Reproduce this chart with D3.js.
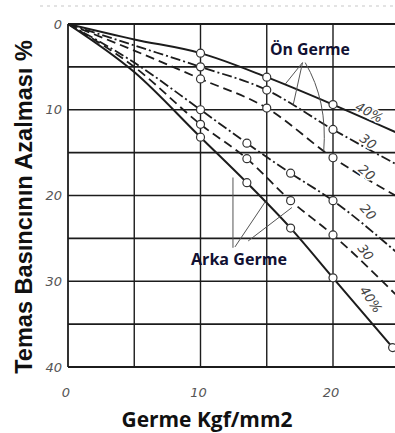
<!DOCTYPE html>
<html><head><meta charset="utf-8">
<script src="https://cdn.jsdelivr.net/npm/d3@7"></script>
<style>html,body{margin:0;padding:0;background:#fff;overflow:hidden}</style>
</head><body>
<svg id="c" width="395" height="433"></svg>
<script>
// ---- data ----
const xTicks = [0, 10, 20];
const yTicks = [0, 10, 20, 30, 40];
const gridX = [0, 5, 10, 15, 20];
const gridY = [0, 5, 10, 15, 20, 25, 30, 35, 40];

const onX = [0, 5, 10, 15, 20, 24.7];
const on40 = [0, 1.8, 3.4, 6.2, 9.4, 12.6];
const on30 = [0, 2.5, 5.0, 7.7, 12.3, 16.3];
const on20 = [0, 3.1, 6.4, 9.8, 15.6, 20.0];
const onMarkX = [10, 15, 20];

const arkaX = [0, 5, 10, 13.5, 16.8, 20, 24.7];
const arka20 = [0, 4.5, 10.0, 13.9, 17.4, 20.6, 26.5];
const arka30 = [0, 5.0, 11.7, 15.7, 20.6, 24.6, 31.5];
const arka40 = [0, 5.6, 13.2, 18.5, 23.8, 29.6, 38.1];
const arkaMarkX = [10, 13.5, 16.8, 20];

const curveLabels = [
  {t: "40%", x: 22.7, y: 10.4, a: 28},
  {t: "30",  x: 22.6, y: 13.8, a: 36},
  {t: "20",  x: 22.5, y: 17.4, a: 40},
  {t: "20",  x: 22.6, y: 22.0, a: 48},
  {t: "30",  x: 22.4, y: 26.7, a: 52},
  {t: "40%", x: 22.8, y: 32.2, a: 56}
];

// ---- drawing ----
const svg = d3.select("#c");
const x = d3.scaleLinear().domain([0, 25]).range([68, 399.25]);
const y = d3.scaleLinear().domain([0, 40]).range([24, 367]);
const ink = "#1c1c1c";

svg.append("line").attr("x1", 40).attr("x2", 395).attr("y1", 6).attr("y2", 6)
  .attr("stroke", "#c8c8c8").attr("stroke-width", 1.2).attr("stroke-dasharray", "3,4");

svg.append("defs").append("clipPath").attr("id", "pc").append("rect")
  .attr("x", x(0)).attr("y", y(0) - 6).attr("width", 395 - x(0)).attr("height", y(40) - y(0) + 12);

const g = svg.append("g");
g.selectAll(".gh").data(gridY).join("line")
  .attr("x1", x(0)).attr("x2", 395).attr("y1", d => y(d)).attr("y2", d => y(d))
  .attr("stroke", ink).attr("stroke-width", d => (d === 0 || d === 40) ? 1.8 : 1.6);
g.selectAll(".gv").data(gridX).join("line")
  .attr("x1", d => x(d)).attr("x2", d => x(d)).attr("y1", y(0)).attr("y2", y(40))
  .attr("stroke", ink).attr("stroke-width", d => d === 0 ? 1.8 : 1.4);

const tickFont = "'DejaVu Sans', sans-serif";
svg.selectAll(".yt").data(yTicks).join("text")
  .attr("x", 62).attr("y", d => y(d) + 4.5).attr("text-anchor", "end")
  .attr("font-family", tickFont).attr("font-style", "italic").attr("font-size", 13)
  .attr("fill", "#555").text(d => d);
svg.selectAll(".xt").data(xTicks).join("text")
  .attr("x", d => x(d) - 2).attr("y", 397).attr("text-anchor", "middle")
  .attr("font-family", tickFont).attr("font-style", "italic").attr("font-size", 13)
  .attr("fill", "#555").text(d => d);

const line = d3.line().x(d => x(d[0])).y(d => y(d[1])).curve(d3.curveMonotoneX);
const series = [
  {xs: onX, ys: on40, dash: null, w: 2.0, mk: onMarkX},
  {xs: onX, ys: on30, dash: "10,3,2,3", w: 1.8, mk: onMarkX},
  {xs: onX, ys: on20, dash: "9,5", w: 1.8, mk: onMarkX},
  {xs: arkaX, ys: arka20, dash: "10,3,2,3", w: 1.8, mk: arkaMarkX},
  {xs: arkaX, ys: arka30, dash: "9,5", w: 1.8, mk: arkaMarkX},
  {xs: arkaX, ys: arka40, dash: null, w: 2.0, mk: arkaMarkX.concat([24.5])}
];
const cg = svg.append("g").attr("clip-path", "url(#pc)");
series.forEach(s => {
  const pts = s.xs.map((v, i) => [v, s.ys[i]]);
  const path = cg.append("path").datum(pts).attr("d", line).attr("fill", "none")
    .attr("stroke", ink).attr("stroke-width", s.w);
  if (s.dash) path.attr("stroke-dasharray", s.dash);
  s.pts = pts; s.node = path.node();
});

// value of a series at x by walking its path
function yAt(s, xv) {
  const n = s.node, L = n.getTotalLength(), px = x(xv);
  let lo = 0, hi = L;
  for (let k = 0; k < 40; k++) { const m = (lo + hi) / 2; if (n.getPointAtLength(m).x < px) lo = m; else hi = m; }
  return n.getPointAtLength(lo).y;
}
series.forEach(s => {
  cg.selectAll(null).data(s.mk).join("circle")
    .attr("cx", d => x(d)).attr("cy", d => yAt(s, d)).attr("r", 4)
    .attr("fill", "#fff").attr("stroke", "#333").attr("stroke-width", 1.2);
});

// curve labels
curveLabels.forEach(l => {
  svg.append("text").attr("transform", `translate(${x(l.x)},${y(l.y)}) rotate(${l.a})`)
    .attr("text-anchor", "middle").attr("dominant-baseline", "middle")
    .attr("font-family", tickFont).attr("font-style", "italic").attr("font-size", 13)
    .attr("fill", "#444").attr("stroke", "#fff").attr("stroke-width", 3).attr("paint-order", "stroke")
    .text(l.t);
});

// annotations
const ann = svg.append("g").attr("stroke", "#555").attr("stroke-width", 1).attr("fill", "none");
const onFrom = [17.7, 4.5];
[[16.4, 7.0], [17.0, 9.4]].forEach(p => {
  ann.append("line").attr("x1", x(onFrom[0])).attr("y1", y(onFrom[1])).attr("x2", x(p[0])).attr("y2", y(p[1]));
});
ann.append("path").attr("d", `M${x(17.9)},${y(4.5)} Q${x(19.6)},${y(9)} ${x(19.3)},${y(14.8)}`);
ann.append("line").attr("x1", x(12.45)).attr("x2", x(12.45)).attr("y1", y(17.9)).attr("y2", y(26.1));
ann.append("line").attr("x1", x(12.6)).attr("y1", y(26.0)).attr("x2", x(14.9)).attr("y2", y(20.7));
ann.append("line").attr("x1", x(13.6)).attr("y1", y(25.3)).attr("x2", x(16.9)).attr("y2", y(21.4));

function fit(sel, target) {
  const w = sel.node().getComputedTextLength();
  const fs = parseFloat(sel.attr("font-size"));
  sel.attr("font-size", fs * target / w);
}
const hfont = "'Open Sans', 'Liberation Sans', sans-serif";
const t1 = svg.append("text").attr("x", 270).attr("y", 55).attr("font-family", hfont)
  .attr("font-weight", 700).attr("font-size", 15).attr("fill", "#111133").text("Ön Germe");
fit(t1, 80);
const t2 = svg.append("text").attr("x", 191).attr("y", 265).attr("font-family", hfont)
  .attr("font-weight", 700).attr("font-size", 15).attr("fill", "#111133").text("Arka Germe");
fit(t2, 96);

const xt = svg.append("text").attr("x", 207).attr("y", 427).attr("text-anchor", "middle")
  .attr("font-family", hfont).attr("font-weight", 700).attr("font-size", 20)
  .attr("fill", "#111").text("Germe Kgf/mm2");
fit(xt, 171);
const yt = svg.append("text").attr("transform", "translate(32,207) rotate(-90)").attr("text-anchor", "middle")
  .attr("font-family", "'Liberation Sans', Arial, sans-serif").attr("font-weight", 700).attr("font-size", 22)
  .attr("fill", "#111").text("Temas Basıncının Azalması %");
fit(yt, 334);
</script>
</body></html>
